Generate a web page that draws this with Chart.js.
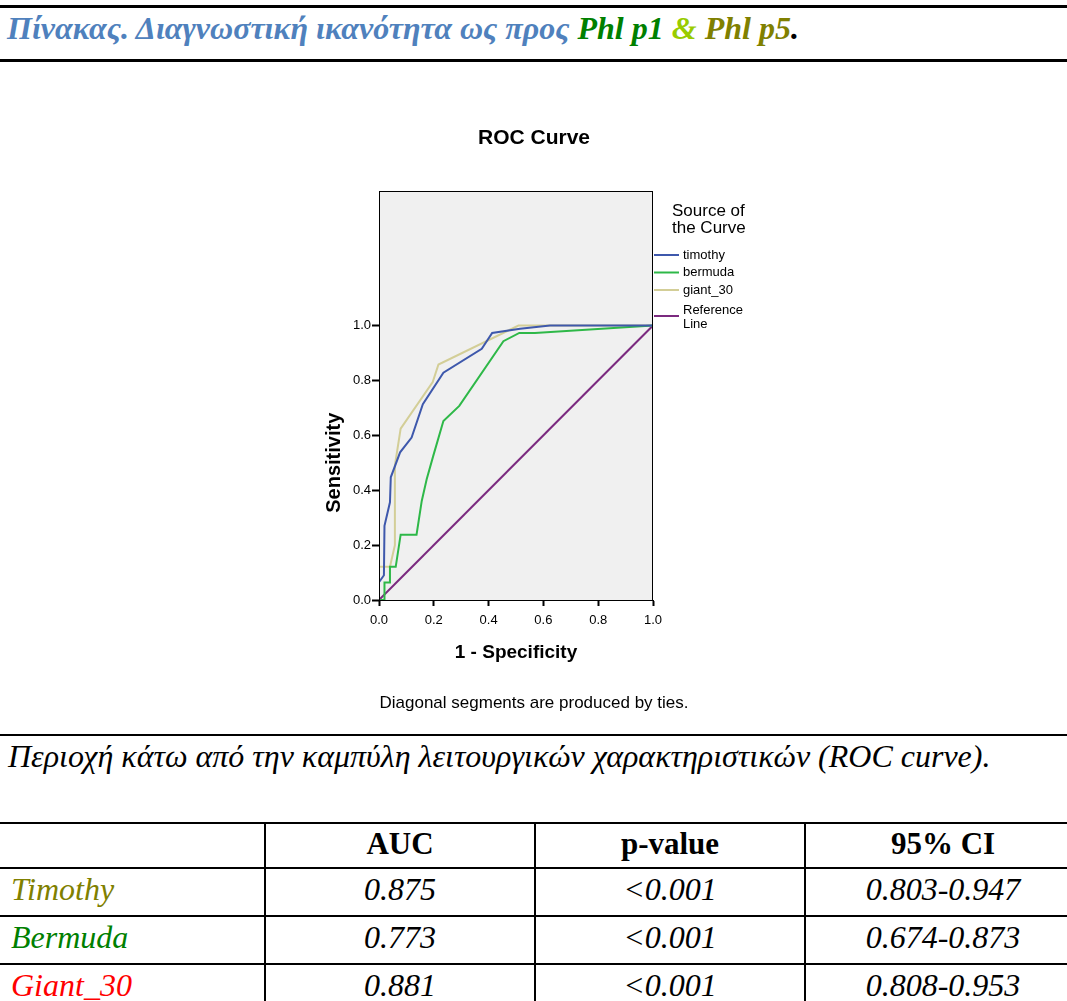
<!DOCTYPE html>
<html>
<head>
<meta charset="utf-8">
<script src="https://cdn.jsdelivr.net/npm/chart.js@4.4.0/dist/chart.umd.min.js"></script>
<style>
  body { margin: 0; width: 1067px; height: 1001px; background: #fff; position: relative; overflow: hidden; font-family: "Liberation Serif", "Times New Roman", serif; }
  .rule { position: absolute; left: 0; width: 1067px; background: #000; }
  #head { position: absolute; left: 7px; top: 12px; font-size: 32px; line-height: 32px; font-weight: bold; font-style: italic; white-space: nowrap; color: #4f81bd; }
  #chartBox { position: absolute; left: 0; top: 100px; width: 1067px; height: 620px; }
  #note { position: absolute; left: 8px; top: 740px; font-size: 32px; line-height: 32px; font-style: italic; white-space: nowrap; color: #000; }
  table { position: absolute; left: -2px; top: 822px; border-collapse: collapse; table-layout: fixed; width: 1082px; }
  td, th { border: 2px solid #000; padding: 0 0 6px 0; font-size: 32px; line-height: 34px; text-align: center; font-style: italic; font-weight: normal; }
  th { font-weight: bold; font-style: normal; font-size: 31px; height: 40px; padding: 0 0 3px 0; }
  td { height: 40px; }
  td.name { text-align: left; padding-left: 11px; }
</style>
</head>
<body>
<div class="rule" style="top:5px;height:3px"></div>
<div id="head">Πίνακας. Διαγνωστική ικανότητα ως προς <span style="color:#008000">Phl p1</span> <span style="color:#99cc00">&amp;</span> <span style="color:#808000">Phl p5</span><span style="color:#000">.</span></div>
<div class="rule" style="top:59px;height:3px"></div>

<div id="chartBox"><canvas id="rocChart" width="1067" height="620"></canvas></div>

<div class="rule" style="top:734px;height:2px"></div>
<div id="note">Περιοχή κάτω από την καμπύλη λειτουργικών χαρακτηριστικών (ROC curve).</div>

<table id="aucTable">
  <colgroup><col style="width:266px"><col style="width:270px"><col style="width:270px"><col style="width:276px"></colgroup>
  <thead><tr><th></th><th>AUC</th><th>p-value</th><th>95% CI</th></tr></thead>
  <tbody></tbody>
</table>

<script>
// ROC curve points (1 - specificity, sensitivity)
const timothyFpr = [0, 0, 0.018, 0.02, 0.04, 0.043, 0.077, 0.119, 0.16, 0.235, 0.375, 0.413, 0.515, 0.624, 1];
const timothyTpr = [0, 0.065, 0.09, 0.27, 0.356, 0.447, 0.538, 0.592, 0.713, 0.828, 0.915, 0.973, 0.988, 1, 1];

const bermudaFpr = [0, 0.02, 0.02, 0.04, 0.04, 0.061, 0.079, 0.137, 0.156, 0.174, 0.198, 0.235, 0.293, 0.454, 0.512, 0.569, 1];
const bermudaTpr = [0, 0, 0.064, 0.064, 0.121, 0.121, 0.238, 0.238, 0.361, 0.44, 0.525, 0.652, 0.707, 0.943, 0.973, 0.973, 1];

const giantFpr = [0, 0, 0.04, 0.058, 0.058, 0.079, 0.196, 0.217, 0.509, 1];
const giantTpr = [0, 0.121, 0.121, 0.2, 0.49, 0.624, 0.794, 0.858, 1, 1];

const refFpr = [0, 1];
const refTpr = [0, 1];

const seriesNames = ["timothy", "bermuda", "giant_30", "Reference Line"];
const seriesColors = ["#3e58ac", "#2eb848", "#d3ce97", "#7b2a7f"];
const legendTitle = ["Source of", "the Curve"];
const yAxisTitle = "Sensitivity";

const xTickValues = [0, 0.2, 0.4, 0.6, 0.8, 1.0];
const yTickValues = [0, 0.2, 0.4, 0.6, 0.8, 1.0];

// table below the chart
const tableRows = ["Timothy", "Bermuda", "Giant_30"];
const tableRowColors = ["#808000", "#008000", "#ff0000"];
const aucValues = ["0.875", "0.773", "0.881"];
const pValues = ["<0.001", "<0.001", "<0.001"];
const ciValues = ["0.803-0.947", "0.674-0.873", "0.808-0.953"];

const tbody = document.querySelector("#aucTable tbody");
tableRows.forEach((name, i) => {
    const tr = document.createElement("tr");
    const cells = [name, aucValues[i], pValues[i], ciValues[i]];
    cells.forEach((txt, j) => {
        const td = document.createElement("td");
        td.textContent = txt;
        if (j === 0) {
            td.className = "name";
            td.style.color = tableRowColors[i];
        }
        tr.appendChild(td);
    });
    tbody.appendChild(tr);
});

function toPoints(xs, ys) {
    return xs.map((x, i) => ({ x: x, y: ys[i] }));
}

const sansFont = "Arial, 'Liberation Sans', sans-serif";
Chart.defaults.font.family = sansFont;
Chart.defaults.color = "#000";

// grey plot area with a black frame, plus the y title centred on the 0-1 range
const framePlugin = {
    id: "plotFrame",
    beforeDatasetsDraw(chart) {
        const { ctx, chartArea: a } = chart;
        ctx.save();
        ctx.fillStyle = "#f0f0f0";
        ctx.fillRect(a.left, a.top, a.right - a.left, a.bottom - a.top);
        ctx.restore();
    },
    afterDraw(chart) {
        const { ctx, chartArea: a } = chart;
        const yScale = chart.scales.y;
        ctx.save();
        ctx.strokeStyle = "#000";
        ctx.lineWidth = 1;
        ctx.strokeRect(a.left + 0.5, a.top + 0.5, a.right - a.left - 1, a.bottom - a.top);

        ctx.translate(a.left - 45, yScale.getPixelForValue(0.5));
        ctx.rotate(-Math.PI / 2);
        ctx.font = "bold 20px " + sansFont;
        ctx.fillStyle = "#000";
        ctx.textAlign = "center";
        ctx.textBaseline = "middle";
        ctx.fillText(yAxisTitle, 0, 0);
        ctx.restore();
    }
};

// SPSS style legend to the right of the plot
const curveLegend = {
    id: "curveLegend",
    afterDraw(chart) {
        const { ctx, chartArea: a } = chart;
        const x0 = a.right;
        ctx.save();
        ctx.fillStyle = "#000";
        ctx.textBaseline = "middle";
        ctx.textAlign = "left";
        ctx.font = "17px " + sansFont;
        legendTitle.forEach((t, i) => ctx.fillText(t, x0 + 19, a.top + 20 + i * 17));

        ctx.font = "13px " + sansFont;
        let y = a.top + 64;
        chart.data.datasets.forEach(ds => {
            const words = ds.label.split(" ");
            const lines = ctx.measureText(ds.label).width > 70 ? words : [ds.label];
            let markY = y;
            if (lines.length > 1) {
                y += 2.5;
                markY = y + 6;
            }
            ctx.strokeStyle = ds.borderColor;
            ctx.lineWidth = 2;
            ctx.beginPath();
            ctx.moveTo(x0 + 1, markY);
            ctx.lineTo(x0 + 26, markY);
            ctx.stroke();
            lines.forEach((ln, k) => ctx.fillText(ln, x0 + 30, y + k * 14.7));
            y += 17.5 + (lines.length - 1) * 14.7;
        });
        ctx.restore();
    }
};

const fprs = [timothyFpr, bermudaFpr, giantFpr, refFpr];
const tprs = [timothyTpr, bermudaTpr, giantTpr, refTpr];

new Chart(document.getElementById("rocChart"), {
    type: "scatter",
    data: {
        datasets: seriesNames.map((name, i) => ({
            label: name,
            data: toPoints(fprs[i], tprs[i]),
            showLine: true,
            borderColor: seriesColors[i],
            backgroundColor: seriesColors[i],
            borderWidth: 2,
            pointRadius: 0,
            tension: 0,
            fill: false
        }))
    },
    options: {
        responsive: false,
        animation: false,
        layout: { padding: { left: 1, right: 0, top: 0, bottom: 0 } },
        plugins: {
            legend: { display: false },
            tooltip: { enabled: false },
            title: {
                display: true,
                text: "ROC Curve",
                color: "#000",
                font: { size: 21, weight: "bold" },
                padding: { top: 25.4, bottom: 40.4 }
            },
            subtitle: {
                display: true,
                position: "bottom",
                text: "Diagonal segments are produced by ties.",
                color: "#000",
                font: { size: 17 },
                padding: { top: 22.8, bottom: 6.8 }
            }
        },
        scales: {
            x: {
                type: "linear",
                min: 0,
                max: 1,
                afterFit: s => { s.height = 70; },
                afterBuildTicks: ax => { ax.ticks = xTickValues.map(v => ({ value: v })); },
                ticks: { callback: v => v.toFixed(1), font: { size: 13 }, color: "#000", padding: 7, maxRotation: 0, autoSkip: false },
                grid: { drawOnChartArea: false, tickLength: 6, tickColor: "#000", tickWidth: 2 },
                border: { color: "#000" },
                title: { display: true, text: "1 - Specificity", color: "#000", font: { size: 19, weight: "bold" }, padding: { top: 0, bottom: 5.6 } }
            },
            y: {
                type: "linear",
                min: 0,
                max: 1.49,
                afterFit: s => { s.width = 378; },
                afterBuildTicks: ax => { ax.ticks = yTickValues.map(v => ({ value: v })); },
                ticks: { callback: v => v.toFixed(1), font: { size: 13 }, color: "#000", padding: 1, autoSkip: false },
                grid: { drawOnChartArea: false, tickLength: 7, tickColor: "#000", tickWidth: 2 },
                border: { color: "#000" }
            },
            // empty right-hand box that keeps room for the legend
            side: {
                type: "linear",
                position: "right",
                afterFit: s => { s.width = 414; },
                ticks: { display: false },
                grid: { display: false },
                border: { display: false }
            }
        }
    },
    plugins: [framePlugin, curveLegend]
});
</script>
</body>
</html>
